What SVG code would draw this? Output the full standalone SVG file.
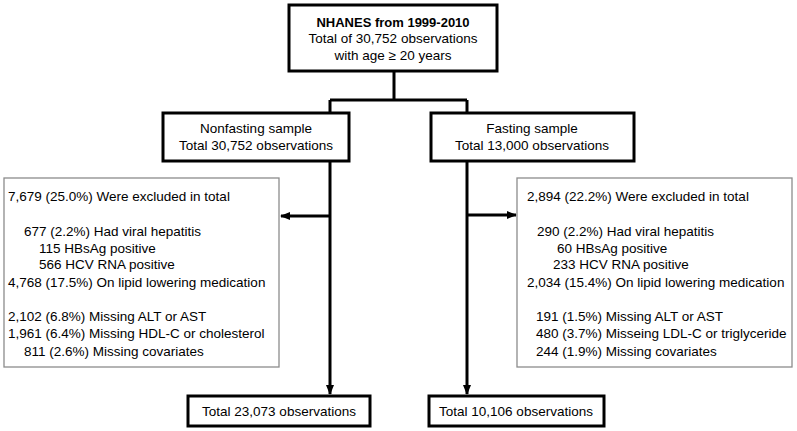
<svg xmlns="http://www.w3.org/2000/svg" width="797" height="431" viewBox="0 0 797 431">
<defs>
<style>
.box{fill:#fff;stroke:#000;stroke-width:3}
.ex{fill:#fff;stroke:#8c8c8c;stroke-width:1.3}
.t{font-family:"Liberation Sans",Arial,sans-serif;font-size:13.5px;fill:#000}
.c{text-anchor:middle}
.b{font-weight:bold;font-size:13px}
.ln{fill:none;stroke:#000;stroke-width:3}
</style>
<marker id="ah" markerWidth="10" markerHeight="8" refX="9" refY="4" orient="auto" markerUnits="userSpaceOnUse" viewBox="0 0 10 8">
<path d="M0,0 L10,4 L0,8 z" fill="#000"/>
</marker>
</defs>
<rect width="797" height="431" fill="#fff"/>
<g id="connectors">
<path class="ln" d="M394,71 V100 M330,100 H467 M330,100 V113 M467,100 V113"/>
<path class="ln" d="M330,160 V394" marker-end="url(#ah)"/>
<path class="ln" d="M467,160 V394" marker-end="url(#ah)"/>
<path class="ln" d="M330,216 H281" marker-end="url(#ah)"/>
<path class="ln" d="M467,215 H516" marker-end="url(#ah)"/>
</g>
<g id="top">
<rect class="box" x="289" y="5" width="208" height="66"/>
<text class="t c b" x="393" y="27">NHANES from 1999-2010</text>
<text class="t c" x="393" y="43">Total of 30,752 observations</text>
<text class="t c" x="393" y="60">with age ≥ 20 years</text>
</g>
<g id="nonfasting">
<rect class="box" x="163" y="113" width="186" height="48"/>
<text class="t c" x="256" y="133">Nonfasting sample</text>
<text class="t c" x="256" y="150">Total 30,752 observations</text>
</g>
<g id="fasting">
<rect class="box" x="431" y="113" width="203" height="48"/>
<text class="t c" x="532" y="133">Fasting sample</text>
<text class="t c" x="532" y="150">Total 13,000 observations</text>
</g>
<g id="excl-left">
<rect class="ex" x="4" y="178" width="275" height="189"/>
<text class="t" x="8" y="201">7,679 (25.0%) Were excluded in total</text>
<text class="t" x="24" y="236">677 (2.2%) Had viral hepatitis</text>
<text class="t" x="39" y="253">115 HBsAg positive</text>
<text class="t" x="39" y="269">566 HCV RNA positive</text>
<text class="t" x="8" y="287">4,768 (17.5%) On lipid lowering medication</text>
<text class="t" x="8" y="321">2,102 (6.8%) Missing ALT or AST</text>
<text class="t" x="8" y="338">1,961 (6.4%) Missing HDL-C or cholesterol</text>
<text class="t" x="24" y="356">811 (2.6%) Missing covariates</text>
</g>
<g id="excl-right">
<rect class="ex" x="517" y="178" width="275" height="189"/>
<text class="t" x="527" y="201">2,894 (22.2%) Were excluded in total</text>
<text class="t" x="537" y="236">290 (2.2%) Had viral hepatitis</text>
<text class="t" x="557" y="253">60 HBsAg positive</text>
<text class="t" x="553" y="269">233 HCV RNA positive</text>
<text class="t" x="527" y="287">2,034 (15.4%) On lipid lowering medication</text>
<text class="t" x="536" y="321">191 (1.5%) Missing ALT or AST</text>
<text class="t" x="536" y="338">480 (3.7%) Misseing LDL-C or triglyceride</text>
<text class="t" x="536" y="356">244 (1.9%) Missing covariates</text>
</g>
<g id="result-left">
<rect class="box" x="188" y="396" width="182" height="30"/>
<text class="t c" x="279" y="416">Total 23,073 observations</text>
</g>
<g id="result-right">
<rect class="box" x="429" y="396" width="175" height="30"/>
<text class="t c" x="516" y="416">Total 10,106 observations</text>
</g>
</svg>
